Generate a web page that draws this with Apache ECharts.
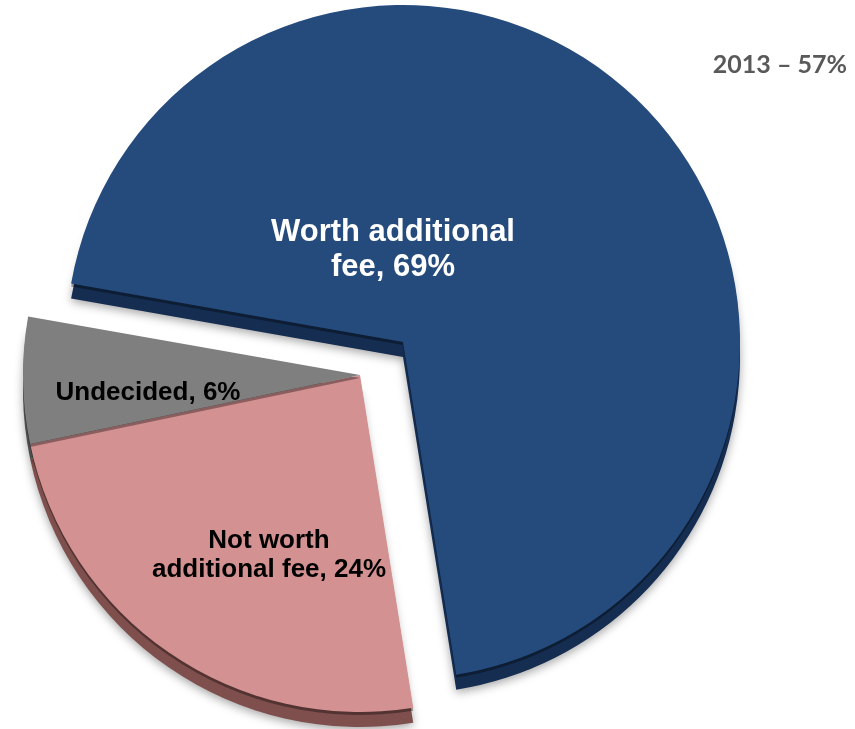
<!DOCTYPE html>
<html>
<head>
<meta charset="utf-8">
<script src="https://cdn.jsdelivr.net/npm/echarts@6/dist/echarts.min.js"></script>
<style>html,body{margin:0;padding:0;background:#fff}#c{width:855px;height:729px}</style>
</head>
<body>
<div id="c"></div>
<script>
// ---- data ----
const categories = ['Worth additional fee', 'Not worth additional fee', 'Undecided'];
const values = [69, 24, 6];
const headline = '2013 \u2013 57%';

// ---- styling ----
const faceColors = ['#254b7d', '#d49191', '#7f7f7f'];
const sideColors = ['#142d50', '#7e4f4d', '#4d4d4d'];
const groups = [[0], [1, 2]];               // exploded group / rest
const centers = [[403, 342], [360, 375]];
const depth = 15;
const radius = 337;
const labelPos = { 0: [393, 250], 1: [269, 555], 2: [148, 393] };
const firstLineWords = { 0: 2, 1: 2, 2: 99 };
const labelStyle = {
  0: { color: '#fff', fontSize: 31, lineHeight: 35 },
  1: { color: '#000', fontSize: 26, lineHeight: 29 },
  2: { color: '#000', fontSize: 26, lineHeight: 29 }
};

function labelText(params) {
  const words = (params.name + ', ' + params.value + '%').split(' ');
  const n = firstLineWords[params.dataIndex];
  if (words.length <= n) return words.join(' ');
  return words.slice(0, n).join(' ') + '\n' + words.slice(n).join(' ');
}

function makeSeries(gi, isSide) {
  const c = centers[gi];
  return {
    type: 'pie',
    silent: true,
    startAngle: 170,
    clockwise: true,
    radius: [0, radius],
    center: [c[0], c[1] + (isSide ? depth : 0)],
    avoidLabelOverlap: false,
    emphasis: { disabled: true },
    labelLine: { show: false },
    z: isSide ? 1 : 2,
    data: categories.map((name, i) => {
      const inGroup = groups[gi].includes(i);
      const item = {
        name: name,
        value: values[i],
        itemStyle: {
          color: inGroup ? (isSide ? sideColors[i] : faceColors[i]) : 'rgba(0,0,0,0)',
          borderWidth: 0,
          shadowBlur: inGroup && isSide ? 10 : 0,
          shadowOffsetY: 3,
          shadowColor: 'rgba(0,0,0,0.35)'
        },
        label: { show: false }
      };
      if (inGroup && !isSide) {
        const s = labelStyle[i];
        item.label = {
          show: true,
          position: 'inside',
          formatter: labelText,
          fontFamily: '"Liberation Sans", Arial, sans-serif',
          fontWeight: 'bold',
          fontSize: s.fontSize,
          lineHeight: s.lineHeight,
          color: s.color,
          align: 'center'
        };
      }
      return item;
    }),
    labelLayout: isSide ? undefined : function (params) {
      const p = labelPos[params.dataIndex];
      return { x: p[0], y: p[1], align: 'center', verticalAlign: 'middle' };
    }
  };
}

const chart = echarts.init(document.getElementById('c'), null, { renderer: 'canvas' });
chart.setOption({
  animation: false,
  title: {
    text: headline,
    right: 3,
    top: 47,
    textStyle: { fontFamily: 'Lato, "Open Sans", sans-serif', fontWeight: 'bold', fontSize: 25, color: '#595959' }
  },
  series: [makeSeries(0, true), makeSeries(1, true), makeSeries(0, false), makeSeries(1, false)]
});
</script>
</body>
</html>
